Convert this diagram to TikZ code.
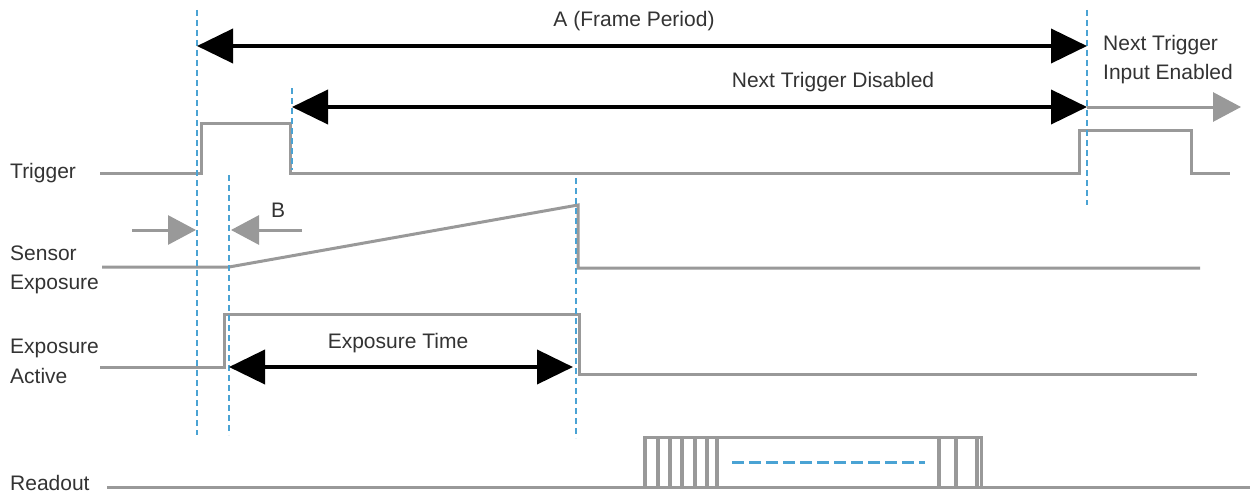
\documentclass[tikz,border=0pt]{standalone}
\usepackage{fontspec}
\setmainfont{Liberation Sans}
\usetikzlibrary{arrows.meta}
\definecolor{sig}{HTML}{999999}
\definecolor{guide}{HTML}{4AA3D4}
\begin{document}
\begin{tikzpicture}[x=1pt,y=-1pt,
  signal/.style={draw=sig,line width=3pt,line join=miter},
  bar/.style={draw=sig,line width=4.5pt},
  guideline/.style={draw=guide,line width=1.3pt,dash pattern=on 6pt off 4pt},
  bigarrow/.style={draw=black,line width=4pt,{Triangle[length=36pt,width=34pt]}-{Triangle[length=36pt,width=34pt]}},
  greyarrow/.style={draw=sig,line width=3pt,-{Triangle[length=28pt,width=29pt]}},
  lbl/.style={font=\fontsize{21}{25}\selectfont,text=black!80,inner sep=0pt,anchor=base},
  rowlbl/.style={lbl,anchor=base west}]
\useasboundingbox (0,0) rectangle (1255,495);
\fill[white] (0,0) rectangle (1255,495);
% guide coordinates
\coordinate (g1t) at (197,10);  \coordinate (g1b) at (197,435);
\coordinate (g2t) at (229,175); \coordinate (g2b) at (229,435);
\coordinate (g3t) at (292,88);  \coordinate (g3b) at (292,170);
\coordinate (g4t) at (576,178); \coordinate (g4b) at (576,438);
\coordinate (g5t) at (1087,10); \coordinate (g5b) at (1087,205);
% signals
\draw[signal] (100,173) -- (201,173) -- (201,123) -- (290,123) -- (290,173) -- (1079,173) -- (1079,130) -- (1191,130) -- (1191,173) -- (1230,173);
\draw[signal] (102,267) -- (229,267) -- (578,205) -- (578,268) -- (1200,268);
\draw[signal] (100,367) -- (224,367) -- (224,314) -- (579,314) -- (579,374) -- (1197,374);
% readout
\draw[signal] (107,487) -- (1250,487);
\draw[signal] (644,487) -- (644,437) -- (981,437) -- (981,487);
\foreach \x in {645,658,670,682,695,707,717,939,956,977}{\draw[bar] (\x,437) -- (\x,487);}
\coordinate (ra) at (732,462); \coordinate (rb) at (925,462);
\draw[guide,line width=3pt,dash pattern=on 12pt off 5pt] (ra) -- (rb);
% guides
\foreach \a/\b in {g1t/g1b,g2t/g2b,g3t/g3b,g4t/g4b,g5t/g5b}{\draw[guideline] (\a) -- (\b);}
% arrows
\coordinate (fa) at (197,46); \coordinate (fb) at (1087,46);
\coordinate (da) at (292,107); \coordinate (db) at (1087,107);
\coordinate (de) at (1241,107);
\coordinate (ea) at (229,367); \coordinate (eb) at (573,367);
\draw[bigarrow] (fa) -- (fb);
\draw[bigarrow] (da) -- (db);
\draw[bigarrow] (ea) -- (eb);
\draw[greyarrow] (db) -- (de);
\coordinate (b1s) at (132,230); \coordinate (b1e) at (196,230);
\coordinate (b2s) at (302,230); \coordinate (b2e) at (231,230);
\draw[greyarrow] (b1s) -- (b1e);
\draw[greyarrow] (b2s) -- (b2e);
% labels
\node[lbl] (la) at (634,27) {A (Frame Period)};
\node[lbl] (ld) at (833,88) {Next Trigger Disabled};
\node[lbl,anchor=base west] (ln1) at (1103,51) {Next Trigger};
\node[lbl,anchor=base west] (ln2) at (1103,80) {Input Enabled};
\node[lbl] (lb) at (278,217) {B};
\node[lbl] (le) at (398,348) {Exposure Time};
\node[rowlbl] (r1) at (10,178) {Trigger};
\node[rowlbl] (r2) at (10,260) {Sensor};
\node[rowlbl] (r3) at (10,289) {Exposure};
\node[rowlbl] (r4) at (10,353) {Exposure};
\node[rowlbl] (r5) at (10,383) {Active};
\node[rowlbl] (r6) at (10,490) {Readout};
\end{tikzpicture}
\end{document}
